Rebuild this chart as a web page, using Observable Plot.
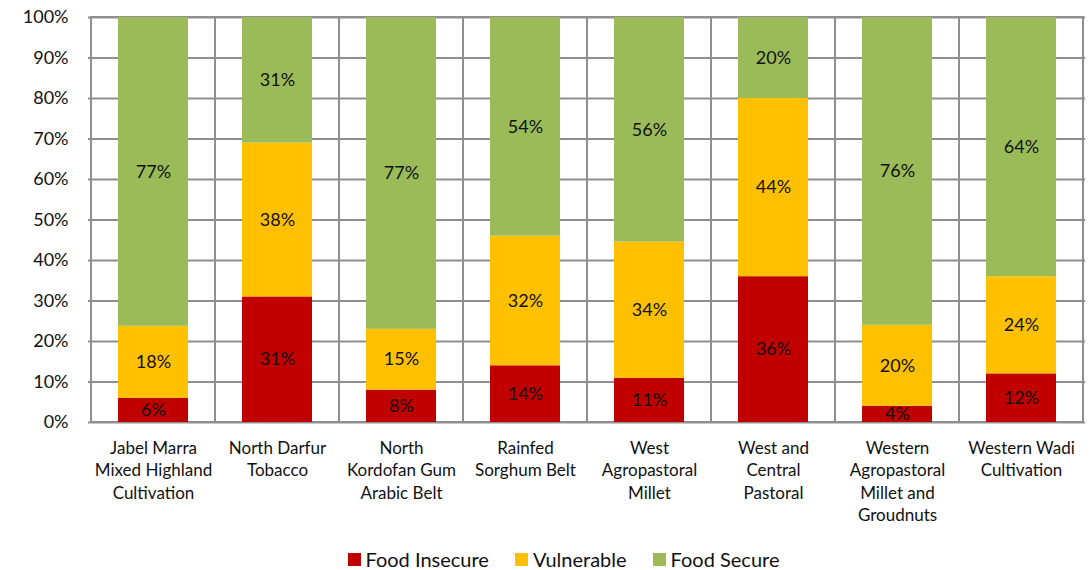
<!DOCTYPE html>
<html>
<head>
<meta charset="utf-8">
<script src="https://cdn.jsdelivr.net/npm/d3@7"></script>
<script src="https://cdn.jsdelivr.net/npm/@observablehq/plot@0.6"></script>
<style>
  body { margin: 0; background: #fff; font-family: Lato, "Open Sans", sans-serif; }
  #legend { display: flex; justify-content: center; align-items: center; gap: 26px; font-size: 20px; line-height: 22px; color: #111; margin-top: 10px; padding-left: 36px; height: 22px; }
  #legend .item { display: flex; align-items: center; gap: 5px; }
  #legend .sw { width: 13px; height: 13px; display: inline-block; }
</style>
</head>
<body>
<div id="chart"></div>
<div id="legend"></div>
<script>
const categories = [
  "Jabel Marra Mixed Highland Cultivation",
  "North Darfur Tobacco",
  "North Kordofan Gum Arabic Belt",
  "Rainfed Sorghum Belt",
  "West Agropastoral Millet",
  "West and Central Pastoral",
  "Western Agropastoral Millet and Groudnuts",
  "Western Wadi Cultivation"
];
const tickLabels = [
  "Jabel Marra\nMixed Highland\nCultivation",
  "North Darfur\nTobacco",
  "North\nKordofan Gum\nArabic Belt",
  "Rainfed\nSorghum Belt",
  "West\nAgropastoral\nMillet",
  "West and\nCentral\nPastoral",
  "Western\nAgropastoral\nMillet and\nGroudnuts",
  "Western Wadi\nCultivation"
];
const series = ["Food Insecure", "Vulnerable", "Food Secure"];
const foodInsecure = [6, 31, 8, 14, 11, 36, 4, 12];
const vulnerable   = [18, 38, 15, 32, 34, 44, 20, 24];
const foodSecure   = [77, 31, 77, 54, 56, 20, 76, 64];
const colors = ["#C00000", "#FFC000", "#9BBB59"];
const yTicks = [0, 0.1, 0.2, 0.3, 0.4, 0.5, 0.6, 0.7, 0.8, 0.9, 1];

const seriesValues = [foodInsecure, vulnerable, foodSecure];
const data = [];
categories.forEach((c, i) => {
  series.forEach((s, j) => data.push({category: c, series: s, value: seriesValues[j][i]}));
});

const gridColor = "#8f8f8f";
const chart = Plot.plot({
  width: 1091,
  height: 538,
  marginTop: 17,
  marginBottom: 116,
  marginLeft: 88,
  marginRight: 6,
  style: {fontFamily: "Lato, 'Open Sans', sans-serif", fontSize: "18px", color: "#111", background: "#fff"},
  x: {domain: categories, padding: 0, label: null},
  y: {domain: [0, 1], label: null},
  color: {domain: series, range: colors},
  marks: [
    Plot.ruleY(yTicks, {stroke: gridColor, strokeWidth: 2}),
    Plot.barY(categories, {x: d => d, y1: 0, y2: 1, fill: "none", stroke: gridColor, strokeWidth: 2}),
    Plot.barY(data, Plot.stackY({
      x: "category", y: "value", fill: "series", order: series, offset: "normalize",
      insetLeft: 27, insetRight: 27
    })),
    Plot.text(data, Plot.stackY({
      x: "category", y: "value", z: "series", order: series, offset: "normalize",
      text: d => d.value + "%", fill: "#111", fontSize: 18
    })),
    Plot.axisY({ticks: yTicks, tickFormat: d => Math.round(d * 100) + "%", tickSize: 0, tickPadding: 20, fontSize: 18, label: null}),
    Plot.axisX({tickSize: 0, tickPadding: 15, fontSize: 17, lineHeight: 1.33,
      tickFormat: d => tickLabels[categories.indexOf(d)], label: null})
  ]
});
document.getElementById("chart").appendChild(chart);

const legend = document.getElementById("legend");
series.forEach((s, i) => {
  const item = document.createElement("div");
  item.className = "item";
  const sw = document.createElement("span");
  sw.className = "sw";
  sw.style.background = colors[i];
  const t = document.createElement("span");
  t.textContent = s;
  item.appendChild(sw);
  item.appendChild(t);
  legend.appendChild(item);
});
</script>
</body>
</html>
